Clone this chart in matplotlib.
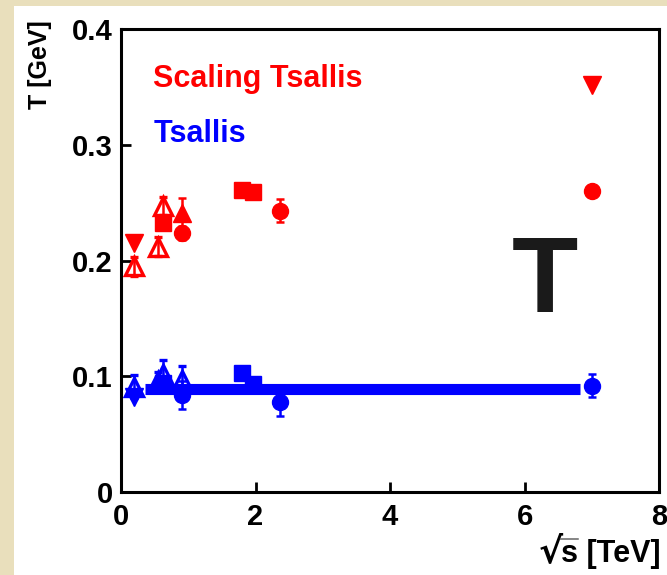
import matplotlib
matplotlib.use("Agg")
import matplotlib.pyplot as plt
from matplotlib.patches import Rectangle

plt.rcParams["font.family"] = ["Liberation Sans", "DejaVu Sans"]
plt.rcParams["font.weight"] = "bold"

RED = "#ff0000"
BLUE = "#0000ff"

# --- scaling Tsallis temperatures (red) ---
sc_dtri_x = [0.2, 7.0]
sc_dtri_y = [0.215, 0.352]
sc_otri_x = [0.2, 0.546, 0.63]
sc_otri_y = [0.195, 0.212, 0.247]
sc_otri_err = [0.008, 0.008, 0.008]
sc_tri_x = [0.9]
sc_tri_y = [0.241]
sc_tri_err = [0.013]
sc_sq_x = [0.63, 1.8, 1.96]
sc_sq_y = [0.232, 0.261, 0.259]
sc_circ_x = [0.9, 2.36, 7.0]
sc_circ_y = [0.224, 0.243, 0.260]
sc_circ_err = [0.006, 0.010, 0.004]

# --- Tsallis temperatures (blue) ---
ts_dtri_x = [0.2]
ts_dtri_y = [0.082]
ts_otri_x = [0.2, 0.546, 0.63, 0.9]
ts_otri_y = [0.091, 0.096, 0.102, 0.097]
ts_otri_err = [0.010, 0.008, 0.012, 0.012]
ts_sq_x = [0.63, 1.8, 1.96]
ts_sq_y = [0.094, 0.103, 0.093]
ts_circ_x = [0.9, 2.36, 7.0]
ts_circ_y = [0.084, 0.078, 0.092]
ts_circ_err = [0.012, 0.012, 0.010]

# constant fit across energies
band_x = [0.35, 6.83]
band_y = [0.089, 0.089]

fig = plt.figure(figsize=(6.67, 5.75), dpi=100, facecolor="#e9dfbc")
fig.patches.append(Rectangle((14 / 667, 0), 1, 1 - 6 / 575, transform=fig.transFigure,
                             facecolor="white", edgecolor="none", zorder=-10))
ax = fig.add_axes([121 / 667, 1 - 492 / 575, 538 / 667, 463 / 575])
ax.set_zorder(1)

ax.plot(band_x, band_y, color=BLUE, linewidth=8, solid_capstyle="butt", zorder=2)

eb = dict(linestyle="none", capsize=3, elinewidth=1.8, capthick=1.8, zorder=3)

# red series
ax.plot(sc_dtri_x, sc_dtri_y, "v", color=RED, ms=13, zorder=3)
ax.errorbar(sc_otri_x, sc_otri_y, yerr=sc_otri_err, fmt="^", color=RED, ms=12.5,
            mfc="none", mew=2.4, **eb)
ax.errorbar(sc_tri_x, sc_tri_y, yerr=sc_tri_err, fmt="^", color=RED, ms=12.5, **eb)
ax.plot(sc_sq_x, sc_sq_y, "s", color=RED, ms=12, zorder=3)
ax.errorbar(sc_circ_x, sc_circ_y, yerr=sc_circ_err, fmt="o", color=RED, ms=11.5, **eb)

# blue series
ax.plot(ts_dtri_x, ts_dtri_y, "v", color=BLUE, ms=13, zorder=3)
ax.errorbar(ts_otri_x, ts_otri_y, yerr=ts_otri_err, fmt="^", color=BLUE, ms=12.5,
            mfc="none", mew=2.4, **eb)
ax.plot(ts_sq_x, ts_sq_y, "s", color=BLUE, ms=12, zorder=3)
ax.errorbar(ts_circ_x, ts_circ_y, yerr=ts_circ_err, fmt="o", color=BLUE, ms=11.5, **eb)

ax.set_xlim(0, 8)
ax.set_ylim(0, 0.4)
ax.set_xticks([0, 2, 4, 6, 8])
ax.set_yticks([0, 0.1, 0.2, 0.3, 0.4])
ax.set_xticklabels(["0", "2", "4", "6", "8"])
ax.set_yticklabels(["0", "0.1", "0.2", "0.3", "0.4"])
ax.tick_params(direction="in", length=7, width=2, labelsize=21)
ax.tick_params(axis="y", pad=6)
ax.tick_params(axis="x", pad=8)
for sp in ax.spines.values():
    sp.set_linewidth(2.2)

ax.text(0.060, 0.875, "Scaling Tsallis", color=RED, fontsize=22,
        fontweight="bold", transform=ax.transAxes)
ax.text(0.060, 0.755, "Tsallis", color=BLUE, fontsize=22,
        fontweight="bold", transform=ax.transAxes)
ax.text(6.30, 0.180, "T", color="#1a1a1a", fontsize=78, fontweight="bold",
        ha="center", va="center")

fig.text(40 / 667, 1 - 20 / 575, "T [GeV]", rotation=90, ha="center", va="top",
         fontsize=18, fontweight="bold")

# x label: large radical sign in front of "s [TeV]", with a bar over the s
xlab = fig.text(661 / 667, 1 - 554 / 575, "s [TeV]", ha="right", va="center",
                fontsize=22, fontweight="bold")
ax.annotate("√", xy=(0.01, 0.55), xycoords=xlab, ha="right", va="center",
            fontsize=26, fontweight="bold", family="DejaVu Sans",
            annotation_clip=False)
ax.annotate("", xy=(0.17, 1.0), xycoords=xlab, xytext=(-0.01, 1.0), textcoords=xlab,
            arrowprops=dict(arrowstyle="-", lw=1.0, color="#555555",
                            shrinkA=0, shrinkB=0), annotation_clip=False)

fig.savefig("out.png", dpi=100, facecolor=fig.get_facecolor())
